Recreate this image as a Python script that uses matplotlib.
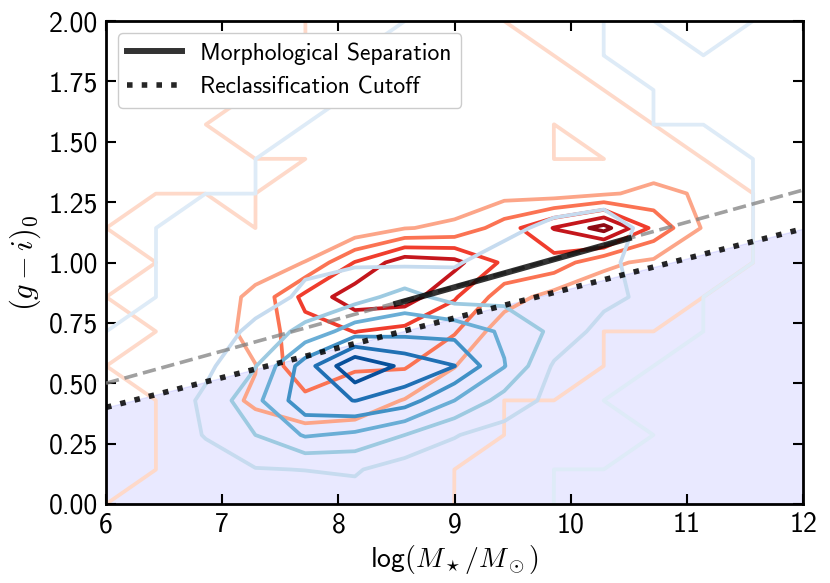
import numpy as np
import matplotlib
matplotlib.use("Agg")
import matplotlib.pyplot as plt
from matplotlib.ticker import FormatStrFormatter

plt.rcParams['font.family'] = 'cmss10'
plt.rcParams['mathtext.fontset'] = 'cm'
plt.rcParams['axes.unicode_minus'] = False

# binned grid: 15 nodes in log mass (6..12) and 15 in colour (0..2)
mass_nodes = np.linspace(6, 12, 15)
color_nodes = np.linspace(0, 2, 15)

# red (early type) counts, row j = colour node j (bottom row first)
red_counts = [
    [0, 0.2, 0.3, 0.3, 0.3, 0.3, 0.2, 0, 0, 0, 0, 0, 0, 0, 0],
    [0, 0, 0.4, 0.4, 0.4, 0.4, 0.3, 0, 0, 0, 0, 0, 0, 0, 0],
    [0, 0, 0.5, 0.7, 0.63, 0.6, 0.5, 0.3, 0, 0, 0, 0, 0, 0, 0],
    [0, 0, 0.68, 1.1, 1.72, 1.5, 0.95, 0.6, 0, 0, 0, 0, 0, 0, 0],
    [0, 0.2, 0.5, 0.97, 2.8, 2.1, 2.1, 1.02, 0.4, 0.3, 0, 0, 0, 0, 0],
    [0, 0, 0.35, 1.4, 2.6, 3.02, 2.7, 2.1, 0.35, 0.4, 0, 0, 0, 0, 0],
    [0, 0.2, 0.5, 1.2, 3.3, 4.6, 4.5, 3.1, 1.5, 0.6, 0.4, 0.3, 0, 0, 0],
    [0, 0, 0.4, 0.63, 1.02, 3.05, 4.6, 4.3, 2.8, 2.6, 1.2, 0.8, 0.3, 0, 0],
    [0, 0.2, 0.3, 0, 0.4, 0.2, 0.95, 1.2, 2.5, 4.05, 5.4, 2.73, 0.9, 0, 0],
    [0, 0, 0, 0, 0.3, 0.2, 0.3, 0.4, 0.6, 0.5, 0.85, 1.3, 0.85, 0, 0],
    [0, 0, 0, 0, 0, 0.2, 0.3, 0.3, 0.3, 0, 0, 0.3, 0, 0, 0],
    [0, 0, 0, 0.2, 0.2, 0.2, 0.2, 0.2, 0.2, 0, 0.2, 0, 0, 0, 0],
    [0, 0, 0, 0, 0.2, 0.2, 0.2, 0.2, 0.2, 0.2, 0, 0, 0, 0, 0],
    [0, 0, 0, 0, 0, 0.2, 0.2, 0.2, 0.2, 0, 0, 0, 0, 0, 0],
    [0, 0, 0, 0, 0, 0.2, 0.2, 0.2, 0, 0, 0, 0, 0, 0, 0],
]

# blue (late type) counts
blue_counts = [
    [0.2, 0.3, 0.4, 0.5, 0.3, 0.6, 0.6, 0.4, 0.2, 0, 0, 0, 0, 0, 0],
    [0.25, 0.35, 0.6, 0.95, 1.02, 1.1, 0.5, 0.5, 0.3, 0, 0, 0, 0, 0, 0],
    [0.2, 0.4, 1.05, 2.0, 3.1, 2.8, 2.0, 1.05, 0.6, 0.3, 0.2, 0, 0, 0, 0],
    [0.15, 0.21, 1.21, 2.73, 4.65, 5.02, 4.5, 3.0, 1.6, 0.7, 0, 0, 0, 0, 0],
    [0.2, 0.4, 0.76, 1.95, 4.52, 6.9, 5.75, 5.02, 3.05, 0.86, 0.3, 0, 0, 0, 0],
    [0, 0.2, 0.3, 1.3, 2.3, 3.5, 3.68, 3.67, 2.83, 1.77, 0.59, 0.3, 0, 0, 0],
    [0, 0, 0.3, 0.5, 1.2, 1.6, 2.4, 1.6, 1.7, 1.6, 1.3, 0.7, 0, 0, 0],
    [0, 0, 0.3, 0.4, 0.8, 0.9, 0.81, 0.9, 1.5, 1.6, 1.35, 0.3, 0.3, 0, 0],
    [0, 0, 0.2, 0.3, 0.4, 0.5, 0.5, 0.5, 0.7, 1.3, 1.3, 0.79, 0.3, 0, 0],
    [0, 0, 0, 0, 0.3, 0.4, 0.4, 0.4, 0.4, 0.3, 0.74, 0.5, 0.3, 0, 0],
    [0, 0, 0, 0, 0.3, 0.3, 0.3, 0.3, 0.3, 0.3, 0.3, 0.3, 0.2, 0, 0],
    [0, 0, 0, 0, 0, 0.3, 0.3, 0.3, 0.3, 0.3, 0.3, 0, 0, 0, 0],
    [0, 0, 0, 0, 0, 0, 0.3, 0.3, 0.3, 0.3, 0.3, 0, 0, 0, 0],
    [0, 0, 0, 0, 0, 0, 0.2, 0.3, 0.3, 0.3, 0, 0, 0, 0, 0],
    [0, 0, 0, 0, 0, 0, 0, 0.2, 0.3, 0.3, 0, 0, 0.2, 0, 0],
]

red_levels = [0.001, 1, 2, 3, 4, 5]
blue_levels = [0.001, 1, 2, 3, 4, 5, 6]

# lines
morph_x = [8.5, 10.5]
morph_y = [0.83, 1.10]
cut_x = [6, 12]
cut_y = [0.40, 1.14]
div_x = [6, 12]
div_y = [0.50, 1.30]

fig = plt.figure(figsize=(8.3, 5.83), dpi=100)
ax = fig.add_axes([106/830, 1 - 504/583, 697/830, 483/583])

ax.fill_between(cut_x, 0, cut_y, color='blue', alpha=0.085, lw=1, zorder=0)

red_cols = plt.cm.Reds([0.15, 0.32, 0.47, 0.62, 0.77, 0.92])
blue_cols = plt.cm.Blues([0.125, 0.25, 0.375, 0.5, 0.625, 0.75, 0.875])
ax.contour(mass_nodes, color_nodes, np.array(red_counts), levels=red_levels,
           colors=red_cols, linewidths=2.7, zorder=1)
ax.contour(mass_nodes, color_nodes, np.array(blue_counts), levels=blue_levels,
           colors=blue_cols, linewidths=2.7, zorder=2)

ax.plot(div_x, div_y, '--', color='gray', alpha=0.75, lw=2.6, zorder=3)
ax.plot(morph_x, morph_y, '-', color='k', alpha=0.8, lw=4.3,
        label='Morphological Separation', zorder=5)
ax.plot(cut_x, cut_y, ':', color='k', alpha=0.85, lw=4,
        label='Reclassification Cutoff', zorder=4)

ax.set_xlim(6, 12)
ax.set_ylim(0, 2)
ax.set_xticks(np.arange(6, 13, 1))
ax.set_yticks(np.arange(0, 2.01, 0.25))
ax.yaxis.set_major_formatter(FormatStrFormatter('%.2f'))
ax.tick_params(direction='in', top=True, right=True, length=7, width=1.5,
               labelsize=20, pad=6)
for s in ax.spines.values():
    s.set_linewidth(2)

ax.set_xlabel(r'log$(M_\star/M_\odot)$', fontsize=20)
ax.set_ylabel(r'$(g-i)_0$', fontsize=22)

ax.legend(loc='upper left', fontsize=17, framealpha=1, edgecolor='#cccccc',
          handlelength=2.3)

fig.savefig('out.png', dpi=100)
